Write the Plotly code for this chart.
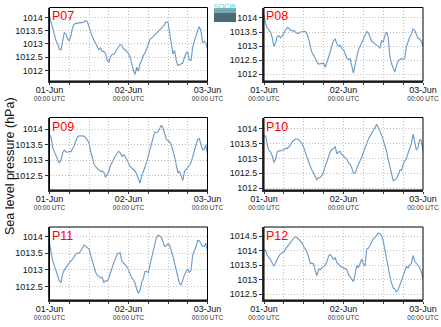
import pandas as pd
import plotly.graph_objects as go

# ---------------- data (half-hourly sea level pressure, hPa, from 01-Jun 00:00 UTC) ----------------
names = ["P07", "P08", "P09", "P10", "P11", "P12"]

p07 = [1014.05, 1013.81, 1013.56, 1013.38, 1013.12, 1013.00, 1012.80, 1012.78, 1013.20, 1013.44,
       1013.38, 1013.19, 1013.12, 1013.31, 1013.62, 1013.75, 1013.78, 1013.78, 1013.80, 1013.81,
       1013.81, 1013.84, 1013.88, 1013.84, 1013.62, 1013.44, 1013.28, 1013.15, 1013.02, 1012.90,
       1012.78, 1012.85, 1012.72, 1012.72, 1012.65, 1012.40, 1012.30, 1012.52, 1012.60, 1012.62,
       1012.69, 1012.81, 1012.88, 1012.98, 1012.94, 1012.81, 1012.78, 1012.72, 1012.65, 1012.50,
       1012.19, 1012.00, 1011.85, 1012.12, 1011.97, 1012.25, 1012.38, 1012.56, 1012.65, 1012.85,
       1013.00, 1013.16, 1013.22, 1013.30, 1013.38, 1013.42, 1013.47, 1013.55, 1013.60, 1013.66,
       1013.75, 1013.85, 1013.81, 1013.44, 1013.06, 1012.62, 1012.75, 1012.38, 1012.19, 1012.22,
       1012.22, 1012.28, 1012.50, 1012.65, 1012.69, 1012.38, 1012.38, 1012.88, 1013.12, 1013.34,
       1013.50, 1013.65, 1013.50, 1013.06, 1013.10, 1013.02, 1012.81]
p08 = [1014.10, 1013.79, 1013.64, 1013.57, 1013.49, 1013.29, 1012.99, 1013.11, 1013.35, 1013.37,
       1013.29, 1013.35, 1013.49, 1013.58, 1013.65, 1013.63, 1013.56, 1013.54, 1013.55, 1013.50,
       1013.45, 1013.45, 1013.50, 1013.51, 1013.51, 1013.52, 1013.42, 1013.25, 1012.99, 1012.76,
       1012.67, 1012.54, 1012.43, 1012.36, 1012.37, 1012.36, 1012.39, 1012.25, 1012.42, 1012.61,
       1012.79, 1013.02, 1013.19, 1013.25, 1013.08, 1013.00, 1013.02, 1012.92, 1012.87, 1012.73,
       1012.57, 1012.52, 1012.55, 1012.30, 1012.04, 1012.33, 1012.57, 1012.87, 1012.99, 1013.11,
       1013.29, 1013.40, 1013.52, 1013.46, 1013.29, 1013.17, 1013.13, 1013.08, 1013.05, 1012.99,
       1012.93, 1013.20, 1013.13, 1013.38, 1013.50, 1013.29, 1012.63, 1012.37, 1012.18, 1012.08,
       1012.30, 1012.48, 1012.51, 1012.56, 1012.54, 1012.56, 1012.99, 1013.19, 1013.32, 1013.43,
       1013.61, 1013.56, 1013.40, 1013.27, 1013.25, 1013.17, 1012.99]
p09 = [1013.84, 1013.73, 1013.40, 1013.26, 1013.13, 1013.02, 1012.91, 1013.00, 1013.24, 1013.33,
       1013.27, 1013.26, 1013.28, 1013.28, 1013.37, 1013.46, 1013.62, 1013.75, 1013.79, 1013.79,
       1013.79, 1013.78, 1013.72, 1013.66, 1013.57, 1013.29, 1013.08, 1012.89, 1012.79, 1012.74,
       1012.68, 1012.64, 1012.65, 1012.61, 1012.45, 1012.55, 1012.64, 1012.82, 1012.91, 1013.03,
       1013.14, 1013.24, 1013.29, 1013.24, 1013.13, 1013.18, 1013.13, 1013.02, 1012.91, 1012.80,
       1012.75, 1012.70, 1012.65, 1012.54, 1012.39, 1012.26, 1012.50, 1012.62, 1012.78, 1012.93,
       1013.15, 1013.36, 1013.53, 1013.74, 1013.91, 1013.89, 1013.93, 1014.02, 1014.13, 1014.04,
       1013.84, 1013.67, 1013.63, 1013.59, 1013.50, 1013.33, 1013.11, 1012.86, 1012.59, 1012.64,
       1012.45, 1012.35, 1012.64, 1012.72, 1012.77, 1012.83, 1012.93, 1013.11, 1013.29, 1013.52,
       1013.67, 1013.70, 1013.51, 1013.34, 1013.35, 1013.50, 1013.18]
p10 = [1013.75, 1013.75, 1013.44, 1013.26, 1013.22, 1013.08, 1012.86, 1012.97, 1013.22, 1013.25,
       1013.25, 1013.28, 1013.28, 1013.34, 1013.33, 1013.39, 1013.44, 1013.55, 1013.61, 1013.65,
       1013.65, 1013.62, 1013.56, 1013.50, 1013.36, 1013.20, 1013.00, 1012.83, 1012.72, 1012.60,
       1012.50, 1012.37, 1012.28, 1012.36, 1012.36, 1012.44, 1012.55, 1012.73, 1012.89, 1013.06,
       1013.22, 1013.30, 1013.33, 1013.40, 1013.15, 1013.21, 1013.23, 1013.13, 1013.08, 1013.03,
       1012.97, 1012.85, 1012.80, 1012.68, 1012.50, 1012.50, 1012.69, 1012.80, 1012.92, 1013.03,
       1013.20, 1013.36, 1013.53, 1013.64, 1013.75, 1013.85, 1013.98, 1014.08, 1014.13, 1014.04,
       1013.93, 1013.78, 1013.61, 1013.44, 1013.24, 1012.96, 1012.69, 1012.50, 1012.25, 1012.28,
       1012.32, 1012.44, 1012.61, 1012.59, 1012.80, 1012.90, 1013.00, 1013.18, 1013.33, 1013.49,
       1013.81, 1013.55, 1013.28, 1013.36, 1013.64, 1013.59, 1013.25]
p11 = [1013.80, 1013.53, 1013.25, 1013.11, 1012.95, 1012.82, 1012.67, 1012.62, 1012.88, 1013.00,
       1013.07, 1013.14, 1013.22, 1013.27, 1013.32, 1013.39, 1013.47, 1013.50, 1013.50, 1013.57,
       1013.65, 1013.74, 1013.70, 1013.67, 1013.62, 1013.45, 1013.25, 1013.07, 1012.93, 1012.84,
       1012.79, 1012.76, 1012.78, 1012.62, 1012.68, 1012.66, 1012.75, 1012.92, 1013.10, 1013.21,
       1013.32, 1013.46, 1013.50, 1013.50, 1013.25, 1013.20, 1013.15, 1013.10, 1013.00, 1012.85,
       1012.75, 1012.70, 1012.60, 1012.42, 1012.30, 1012.38, 1012.62, 1012.74, 1012.95, 1012.95,
       1012.92, 1013.14, 1013.36, 1013.56, 1013.80, 1013.97, 1014.04, 1014.01, 1013.97, 1013.84,
       1013.70, 1013.72, 1013.78, 1013.73, 1013.58, 1013.41, 1013.20, 1012.98, 1012.78, 1012.58,
       1012.55, 1012.72, 1012.85, 1012.95, 1013.02, 1012.92, 1013.00, 1013.45, 1013.55, 1013.68,
       1013.88, 1013.87, 1013.78, 1013.70, 1013.70, 1013.80, 1013.55]
p12 = [1014.04, 1014.00, 1013.83, 1013.77, 1013.69, 1013.56, 1013.46, 1013.58, 1013.71, 1013.81,
       1013.89, 1013.92, 1013.95, 1014.06, 1014.14, 1014.20, 1014.26, 1014.34, 1014.43, 1014.47,
       1014.44, 1014.38, 1014.33, 1014.26, 1014.13, 1014.04, 1013.95, 1013.76, 1013.56, 1013.56,
       1013.54, 1013.29, 1013.14, 1013.37, 1013.34, 1013.42, 1013.44, 1013.51, 1013.62, 1013.81,
       1013.86, 1013.79, 1013.69, 1013.75, 1013.58, 1013.53, 1013.46, 1013.42, 1013.41, 1013.37,
       1013.34, 1013.18, 1013.08, 1013.01, 1012.93, 1013.19, 1013.48, 1013.41, 1013.60, 1013.71,
       1013.54, 1013.48, 1014.06, 1014.08, 1014.18, 1014.28, 1014.41, 1014.45, 1014.52, 1014.60,
       1014.58, 1014.52, 1014.32, 1014.00, 1013.66, 1013.37, 1013.11, 1012.89, 1012.71, 1012.67,
       1012.58, 1012.65, 1012.82, 1012.97, 1013.17, 1013.27, 1013.45, 1013.40, 1013.51, 1013.56,
       1013.83, 1013.63, 1013.56, 1013.52, 1013.42, 1013.27, 1013.02]
series = [p07, p08, p09, p10, p11, p12]

y_ranges = [[1011.60, 1014.38], [1011.76, 1014.37], [1012.04, 1014.38],
            [1011.94, 1014.37], [1012.10, 1014.28], [1012.30, 1014.81]]

start = "2014-06-01 00:00"
tick_times = pd.date_range(start, "2014-06-03 00:00", freq="6h")
day_labels = {"2014-06-01": "01-Jun", "2014-06-02": "02-Jun", "2014-06-03": "03-Jun"}
ylabel = "Sea level pressure (hPa)"

# ---------------- layout ----------------
W, H = 441, 327
col_px = [(49.5, 207.5), (264, 423)]
row_px = [(7.5, 81), (117.5, 190), (227, 300)]
FONT = "Liberation Sans, Arial, sans-serif"
LINE = "#6f9cc6"
GRID = "#c0c0c0"

ticktext = []
for t in tick_times:
    if t.hour == 0:
        ticktext.append("<span style='font-size:9px;color:#111'>"
                        + day_labels[t.strftime("%Y-%m-%d")] +
                        "</span><br>00:00 UTC")
    else:
        ticktext.append("")

fig = go.Figure()
layout = dict(width=W, height=H, margin=dict(l=0, r=0, t=0, b=0, autoexpand=False),
              paper_bgcolor="white", plot_bgcolor="white",
              font=dict(family=FONT, size=9, color="#111"), showlegend=False)
shapes, annotations = [], []

for i, (nm, vals) in enumerate(zip(names, series)):
    r, c = divmod(i, 2)
    k = "" if i == 0 else str(i + 1)
    x0, x1 = col_px[c]
    yt, yb = row_px[r]
    times = pd.date_range(start, periods=len(vals), freq="30min")
    fig.add_trace(go.Scatter(x=times, y=vals, mode="lines",
                             line=dict(color=LINE, width=1.15),
                             xaxis="x" + k, yaxis="y" + k, hoverinfo="skip"))
    layout["xaxis" + k] = dict(
        domain=[x0 / W, x1 / W], anchor="y" + k, automargin=False,
        range=[tick_times[0], tick_times[-1]],
        tickmode="array", tickvals=list(tick_times), ticktext=ticktext,
        tickangle=0, ticks="outside", ticklen=2, tickcolor="#333",
        showgrid=True, gridcolor=GRID, griddash="1px,2px", gridwidth=1,
        showline=True, linecolor="#333", linewidth=2, zeroline=False,
        tickfont=dict(size=6.5, color="#333"))
    layout["yaxis" + k] = dict(
        domain=[1 - yb / H, 1 - yt / H], anchor="x" + k, automargin=False,
        range=y_ranges[i], tick0=1012, dtick=0.5, tickformat=".1~f",
        ticks="outside", ticklen=3, tickcolor="#333",
        showgrid=True, gridcolor=GRID, griddash="1px,2px", gridwidth=1,
        showline=True, linecolor="#333", linewidth=2, zeroline=False,
        tickfont=dict(size=9, color="#111"))
    # thin top/right frame
    shapes.append(dict(type="rect", xref="x" + k + " domain", yref="y" + k + " domain",
                       x0=0, x1=1, y0=0, y1=1, line=dict(color="black", width=1),
                       fillcolor="rgba(0,0,0,0)", layer="above"))
    annotations.append(dict(text=nm, xref="x" + k + " domain", yref="y" + k + " domain",
                            x=0.003, y=1.0, xanchor="left", yanchor="top", showarrow=False,
                            font=dict(family=FONT, size=12.5, color="red")))

annotations.append(dict(text=ylabel, xref="paper", yref="paper", x=10 / W, y=1 - 166 / H,
                        textangle=-90, showarrow=False, xanchor="center", yanchor="middle",
                        font=dict(family=FONT, size=12.5, color="#111")))

# small SOCIB logo
shapes.append(dict(type="rect", xref="paper", yref="paper", x0=214 / W, x1=236 / W,
                   y0=1 - 22 / H, y1=1 - 8 / H, line=dict(width=0), fillcolor="#4d6b74"))
shapes.append(dict(type="rect", xref="paper", yref="paper", x0=214 / W, x1=236 / W,
                   y0=1 - 13 / H, y1=1 - 8 / H, line=dict(width=0), fillcolor="#7fa7b1"))
annotations.append(dict(text="SOCIB", xref="paper", yref="paper", x=225 / W, y=1 - 1 / H,
                        xanchor="center", yanchor="top", showarrow=False,
                        font=dict(family=FONT, size=7, color="#5fc8d8")))

layout["shapes"] = shapes
layout["annotations"] = annotations
fig.update_layout(**layout)
fig.write_html("out.html")
